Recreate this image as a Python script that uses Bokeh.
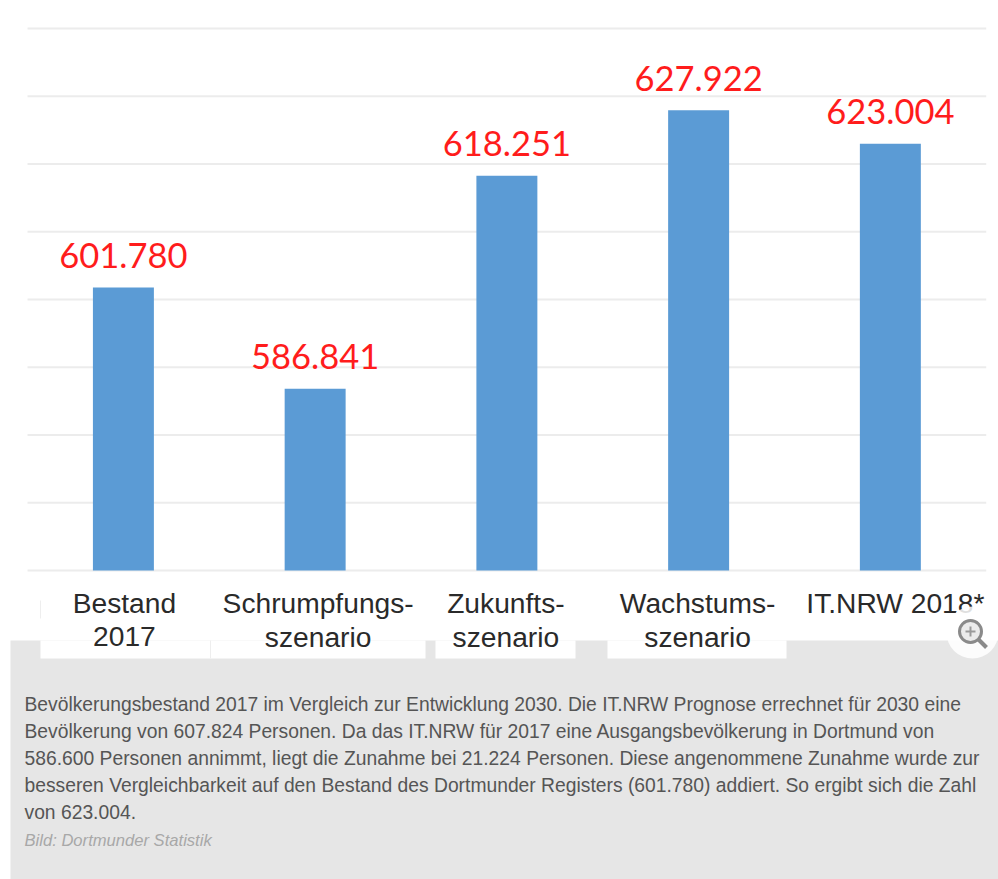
from bokeh.plotting import figure
from bokeh.models import ColumnDataSource, Range1d
from bokeh.core.properties import value
from bokeh.embed import file_html
from bokeh.resources import INLINE

categories = ["Bestand\n2017", "Schrumpfungs-\nszenario", "Zukunfts-\nszenario", "Wachstums-\nszenario", "IT.NRW 2018*"]
values = [601780, 586841, 618251, 627922, 623004]
value_labels = ["601.780", "586.841", "618.251", "627.922", "623.004"]
grid_ticks = [560000, 570000, 580000, 590000, 600000, 610000, 620000, 630000, 640000]
caption_lines = [
    "Bevölkerungsbestand 2017 im Vergleich zur Entwicklung 2030. Die IT.NRW Prognose errechnet für 2030 eine",
    "Bevölkerung von 607.824 Personen. Da das IT.NRW für 2017 eine Ausgangsbevölkerung in Dortmund von",
    "586.600 Personen annimmt, liegt die Zunahme bei 21.224 Personen. Diese angenommene Zunahme wurde zur",
    "besseren Vergleichbarkeit auf den Bestand des Dortmunder Registers (601.780) addiert. So ergibt sich die Zahl",
    "von 623.004.",
]
credit = "Bild: Dortmunder Statistik"
label_nudges = [1, 3, -1, -1, 5]

W, H = 998, 879
positions = list(range(len(categories)))
p = figure(width=W, height=H,
           x_range=Range1d(-0.641, 4.564), y_range=Range1d(514391, 644133),
           x_axis_location=None, y_axis_location=None,
           output_backend="svg", toolbar_location=None, tools="",
           min_border_left=0, min_border_right=0, min_border_top=0, min_border_bottom=0)
p.extra_x_ranges = {"px": Range1d(0, W)}
p.extra_y_ranges = {"px": Range1d(H, 0)}
p.outline_line_color = None
p.background_fill_color = "white"
p.border_fill_color = "white"
p.grid.visible = False
PX = dict(x_range_name="px", y_range_name="px")

# caption panel with the white tabs behind the category labels
p.quad(left=[10], right=[998], top=[640], bottom=[879], fill_color="#e6e6e6", line_color=None, **PX)
p.quad(left=[40, 435, 607], right=[425, 575, 786], top=[640] * 3, bottom=[658] * 3,
       fill_color="white", line_color=None, **PX)
p.segment(x0=[40, 210], x1=[40, 210], y0=[600, 640], y1=[618, 658], line_color="#eeeeee", line_width=1, **PX)

# grid lines
p.segment(x0=[-0.5] * len(grid_ticks), x1=[4.5] * len(grid_ticks), y0=grid_ticks, y1=grid_ticks,
          line_color="#ececec", line_width=2)

src = ColumnDataSource(dict(x=positions, val=values, lab=value_labels, base=[560000] * len(values)))
p.vbar(x="x", top="val", bottom="base", width=0.318, source=src, fill_color="#5b9bd5", line_color=None)
p.text(x="x", y="val", text="lab", source=src, text_color="#ff1c1c", text_font=value("Lato"),
       text_font_size="34.5px", text_align="center", text_baseline="alphabetic", y_offset=-32)

# category labels, one text per line
for row, base_y in enumerate([602, 636]):
    rows = [(i, c.split("\n")[row]) for i, c in enumerate(categories) if len(c.split("\n")) > row]
    s = ColumnDataSource(dict(x=[i for i, _ in rows], t=[t for _, t in rows],
                              dx=[label_nudges[i] for i, _ in rows], y=[base_y] * len(rows)))
    p.text(x="x", y=base_y, text="t", x_offset="dx", source=s, y_range_name="px",
           text_color="#2a2a2a", text_font=value("Liberation Sans"), text_font_size="28.2px",
           text_align="center", text_baseline="alphabetic")

# caption
cap = ColumnDataSource(dict(x=[24] * len(caption_lines), y=[704 + 27 * i for i in range(len(caption_lines))],
                            t=caption_lines))
p.text(x="x", y="y", text="t", source=cap, text_color="#555555", text_font=value("Liberation Sans"),
       text_font_size="19.3px", text_baseline="alphabetic", **PX)
p.text(x=[24], y=[840], text=[credit], text_color="#a8a8a8", text_font=value("Liberation Sans"),
       text_font_style="italic", text_font_size="16.6px", text_baseline="alphabetic", **PX)

# zoom badge
p.scatter(x=[972], y=[632], size=52, marker="circle", fill_color="white", fill_alpha=0.85, line_color=None, **PX)
p.scatter(x=[970], y=[631], size=22, marker="circle", fill_color="#dddddd", fill_alpha=0.6,
          line_color="#8a8a8a", line_width=3, **PX)
p.line(x=[978, 986], y=[639, 647], line_color="#8a8a8a", line_width=4, **PX)
p.segment(x0=[965, 970], x1=[975, 970], y0=[631, 626], y1=[631, 636], line_color="#9a9a9a", line_width=2, **PX)

open("out.html", "w").write(file_html(p, INLINE))
